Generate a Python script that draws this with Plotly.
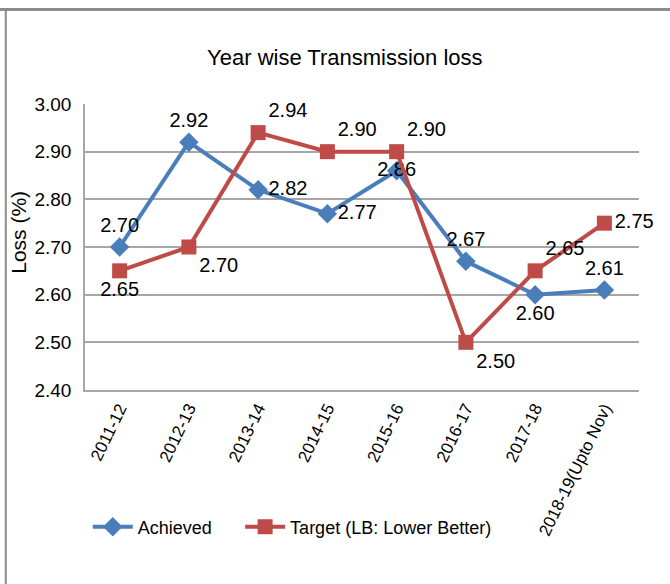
import plotly.graph_objects as go

# data
years = ["2011-12", "2012-13", "2013-14", "2014-15", "2015-16",
         "2016-17", "2017-18", "2018-19(Upto Nov)"]
achieved = [2.70, 2.92, 2.82, 2.77, 2.86, 2.67, 2.60, 2.61]
target = [2.65, 2.70, 2.94, 2.90, 2.90, 2.50, 2.65, 2.75]

# label placement (style, not data)
achieved_pos = ["top center", "top center", "middle right", "middle right",
                "middle center", "top center", "bottom center", "top center"]
target_pos = ["bottom center", "bottom right", "top right", "top right",
              "top right", "bottom right", "top right", "middle right"]

FONT = "Liberation Sans, Arial, sans-serif"
BLUE = "#4A7EBB"
RED = "#BE4B48"
GRID = "#A6A6A6"

fig = go.Figure()

fig.add_trace(go.Scatter(
    x=years, y=achieved, name="Achieved",
    mode="lines+markers+text",
    line=dict(color=BLUE, width=4),
    marker=dict(symbol="diamond", size=15, color=BLUE),
    text=[f"{v:.2f}" for v in achieved],
    textposition=achieved_pos,
    textfont=dict(family=FONT, size=20, color="black"),
    cliponaxis=False,
    legend="legend",
))

fig.add_trace(go.Scatter(
    x=years, y=target, name="Target (LB: Lower Better)",
    mode="lines+markers+text",
    line=dict(color=RED, width=4),
    marker=dict(symbol="square", size=15, color=RED),
    text=[f"{v:.2f}" for v in target],
    textposition=target_pos,
    textfont=dict(family=FONT, size=20, color="black"),
    cliponaxis=False,
    legend="legend2",
))

fig.update_xaxes(
    type="category",
    range=[-0.5, len(years) - 0.5],
    tickangle=-64,
    tickfont=dict(family=FONT, size=17, color="black"),
    showline=True, linecolor=GRID, linewidth=1.5,
    showgrid=False,
    ticks="",
    automargin=False,
)

fig.update_yaxes(
    range=[2.40, 3.00],
    dtick=0.10,
    tickformat=".2f",
    tickfont=dict(family=FONT, size=19, color="black"),
    showline=True, linecolor=GRID, linewidth=1.5,
    gridcolor=GRID, gridwidth=1.5,
    zeroline=False,
    ticks="",
    ticklabelstandoff=8,
    automargin=False,
)

fig.add_annotation(
    text="Loss (%)", textangle=-90,
    xref="paper", yref="paper", x=-0.119, y=0.55,
    xanchor="center", yanchor="middle", showarrow=False,
    font=dict(family=FONT, size=21, color="black"),
)

# outer frame of the pasted chart
fig.add_shape(type="line", xref="paper", yref="paper",
              x0=-0.16, x1=1.06, y0=1.33, y1=1.33,
              line=dict(color="#8C8C8C", width=3))
fig.add_shape(type="line", xref="paper", yref="paper",
              x0=-0.143, x1=-0.143, y0=1.33, y1=-0.7,
              line=dict(color="#8C8C8C", width=2))

legend_style = dict(orientation="h", yanchor="middle", xanchor="left",
                    font=dict(family=FONT, size=18, color="black"),
                    itemwidth=40, bgcolor="rgba(0,0,0,0)")

fig.update_layout(
    width=670, height=584,
    margin=dict(l=85, r=31, t=104, b=194),
    title=dict(text="Year wise Transmission loss", x=0.469, xanchor="center",
               xref="paper", y=0.902, yanchor="middle",
               font=dict(family=FONT, size=22, color="black")),
    showlegend=True,
    legend=dict(x=0.005, y=-0.479, **legend_style),
    legend2=dict(x=0.28, y=-0.479, **legend_style),
    plot_bgcolor="white",
    paper_bgcolor="white",
)

fig.write_html("out.html", config={"displayModeBar": False},
               post_script="document.body.style.margin='0';")
